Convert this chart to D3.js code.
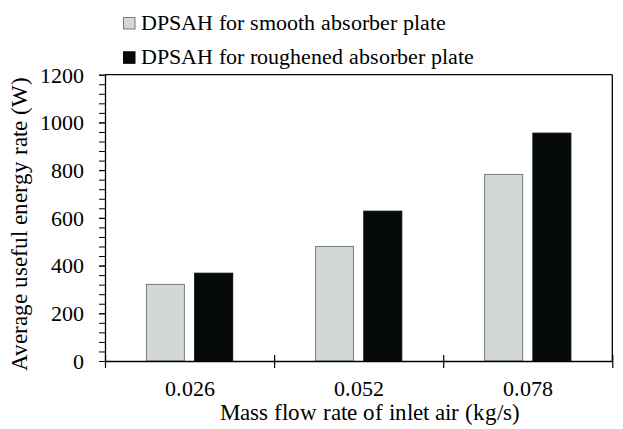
<!DOCTYPE html>
<html>
<head>
<meta charset="utf-8">
<script src="https://cdn.jsdelivr.net/npm/d3@7"></script>
<style>
  @font-face {
    font-family: "ChartSerif";
    src: local("Liberation Serif"), local("LiberationSerif"), local("LiberationSerif-Regular"),
         local("Times New Roman"), local("DejaVu Serif"), local("DejaVuSerif");
  }
  body { margin: 0; background: #fff; }
  svg text { font-family: "ChartSerif", "Liberation Serif", "DejaVu Serif", serif !important; }
</style>
</head>
<body>
<div id="chart"></div>
<script>
var categories = ["0.026", "0.052", "0.078"];
var seriesNames = ["DPSAH for smooth absorber plate", "DPSAH for roughened absorber plate"];
var smoothValues = [321, 480, 782];
var roughValues = [368, 628, 955];
var yMajorTicks = [0, 200, 400, 600, 800, 1000, 1200];

var chartW = 623, chartH = 429;
var plotLeft = 105, plotRight = 612.3, plotTop = 74.7, plotBottom = 361;
var fills = ["#d2d8d8", "#060a08"];
var strokes = ["#7a7a7a", "#060a08"];

var svg = d3.select("#chart").append("svg")
	.attr("width", chartW)
	.attr("height", chartH);

var y = d3.scaleLinear().domain([0, 1200]).range([plotBottom, plotTop]);

var x0 = d3.scaleBand()
	.domain(categories)
	.range([plotLeft, plotRight])
	.paddingInner(0.49)
	.paddingOuter(0.245);

var x1 = d3.scaleBand()
	.domain([0, 1])
	.range([0, x0.bandwidth()])
	.paddingInner(0.213);

// category boundaries for the crossing ticks
var xEdge = d3.scaleLinear().domain([0, categories.length]).range([plotLeft, plotRight]);

var series = [smoothValues, roughValues];

//bars
var groups = svg.append("g").selectAll("g")
	.data(categories)
	.join("g")
	.attr("transform", function(d){ return "translate(" + x0(d) + ",0)"; });

groups.selectAll("rect")
	.data(function(d, i){ return series.map(function(s, k){ return {k: k, v: s[i]}; }); })
	.join("rect")
	.attr("x", function(d){ return x1(d.k); })
	.attr("width", x1.bandwidth())
	.attr("y", function(d){ return y(d.v); })
	.attr("height", function(d){ return plotBottom - y(d.v); })
	.attr("fill", function(d){ return fills[d.k]; })
	.attr("stroke", function(d){ return strokes[d.k]; })
	.attr("stroke-width", 1);

//frame top and right
svg.append("line")
	.attr("x1", plotLeft).attr("x2", plotRight)
	.attr("y1", plotTop).attr("y2", plotTop)
	.attr("stroke", "#000").attr("stroke-width", 1.3);
svg.append("line")
	.attr("x1", plotRight).attr("x2", plotRight)
	.attr("y1", plotTop).attr("y2", plotBottom)
	.attr("stroke", "#000").attr("stroke-width", 1.3);

//y axis minor ticks
var minorTicks = d3.range(0, 1201, 40);
svg.append("g")
	.attr("transform", "translate(" + plotLeft + ",0)")
	.call(d3.axisLeft(y).tickValues(minorTicks).tickSize(6).tickFormat(""))
	.call(function(g){ g.select(".domain").remove(); })
	.selectAll("line").attr("stroke", "#000").attr("stroke-width", 1);

//y axis
var yAxis = svg.append("g")
	.attr("transform", "translate(" + plotLeft + ",0)")
	.call(d3.axisLeft(y).tickValues(yMajorTicks).tickFormat(d3.format("d")).tickSize(6).tickSizeOuter(0).tickPadding(15));
yAxis.attr("font-size", 21.5);
yAxis.select(".domain").attr("stroke", "#000").attr("stroke-width", 1.3);
yAxis.selectAll("line").attr("stroke", "#000");
yAxis.selectAll("text")
	.attr("fill", "#000")
	.attr("dy", "0.34em");

//x axis line + crossing ticks
var xTicks = svg.append("g")
	.attr("transform", "translate(0," + plotBottom + ")")
	.call(d3.axisBottom(xEdge).tickValues(d3.range(0, categories.length + 1)).tickSize(7).tickSizeOuter(0).tickFormat(""));
xTicks.select(".domain").attr("stroke", "#000").attr("stroke-width", 1.3);
xTicks.selectAll(".tick line").attr("y1", -6).attr("y2", 7).attr("stroke", "#000").attr("stroke-width", 1.2);

//x labels
var xLabels = svg.append("g")
	.attr("transform", "translate(0," + plotBottom + ")")
	.call(d3.axisBottom(x0).tickSize(0).tickPadding(0));
xLabels.attr("font-size", 22);
xLabels.select(".domain").remove();
xLabels.selectAll("text")
	.attr("y", 35)
	.attr("dy", 0)
	.attr("fill", "#000");

//axis titles
svg.append("text")
	.attr("x", 370)
	.attr("y", 420)
	.attr("text-anchor", "middle")
	.attr("font-size", 22.5)
	.text("Mass flow rate of inlet air (kg/s)");

svg.append("text")
	.attr("transform", "translate(27," + 224 + ") rotate(-90)")
	.attr("text-anchor", "middle")
	.attr("font-size", 22.5)
	.text("Average useful energy rate (W)");

//legend
var legend = svg.append("g").selectAll("g")
	.data(seriesNames)
	.join("g")
	.attr("transform", function(d, i){ return "translate(123.5," + (17.5 + i * 34.3) + ")"; });

legend.append("rect")
	.attr("width", 11.5)
	.attr("height", 11.5)
	.attr("fill", function(d, i){ return fills[i]; })
	.attr("stroke", function(d, i){ return strokes[i]; });

legend.append("text")
	.attr("x", 17.5)
	.attr("y", 12)
	.attr("font-size", 22.3)
	.text(function(d){ return d; });
</script>
</body>
</html>
